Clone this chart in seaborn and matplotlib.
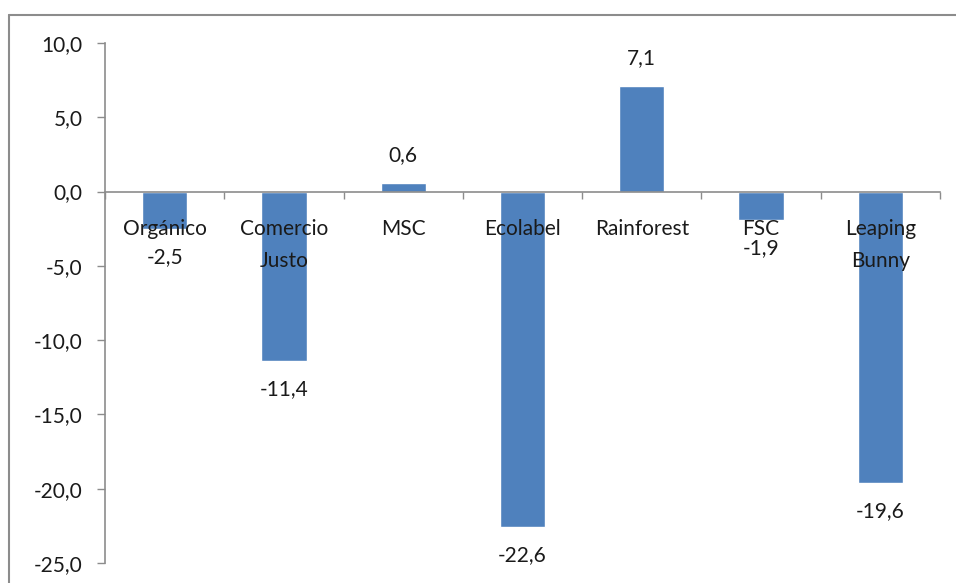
import matplotlib
matplotlib.use("Agg")
import matplotlib.pyplot as plt
from matplotlib.lines import Line2D
import numpy as np
import pandas as pd
import seaborn as sns

### Data ###
categorias = ["Orgánico", "Comercio\nJusto", "MSC", "Ecolabel", "Rainforest", "FSC", "Leaping\nBunny"]
valores = [-2.5, -11.4, 0.6, -22.6, 7.1, -1.9, -19.6]
yticks = [-25, -20, -15, -10, -5, 0, 5, 10]

df = pd.DataFrame({"cat": categorias, "val": valores})

sns.set_style("white")
plt.rcParams["font.family"] = ["Lato", "DejaVu Sans"]

fig = plt.figure(figsize=(9.56, 5.83), dpi=100)
ax = fig.add_axes([105 / 956, 1 - 563 / 583, 835 / 956, 520 / 583])

sns.barplot(data=df, x="cat", y="val", color="#4F81BD", saturation=1, width=0.38, ax=ax)
ax.set_axisbelow(False)  # labels sit on top of the bars, like the Excel original

axis_col = "#8C8C8C"
txt_col = "#1A1A1A"
fs = 15

ax.set_ylim(-25, 10)
ax.set_xlim(-0.5, len(categorias) - 0.5)
ax.set_yticks(yticks)
ax.set_yticklabels([f"{v:.1f}".replace(".", ",") for v in yticks], fontsize=fs, color=txt_col)
ax.tick_params(axis="y", direction="out", length=6, width=1, color=axis_col, pad=10, left=True)

# x-axis sits at zero, tick marks between categories
ax.spines["bottom"].set_position(("data", 0))
ax.set_xticks(range(len(categorias)))
ax.set_xticklabels(categorias, fontsize=fs, color=txt_col, linespacing=1.75, va="top")
ax.tick_params(axis="x", which="major", length=0, pad=20)
ax.set_xticks(np.arange(-0.5, len(categorias), 1), minor=True)
ax.tick_params(axis="x", which="minor", direction="out", length=5, width=1, color=axis_col, bottom=True)

for s in ["top", "right"]:
    ax.spines[s].set_visible(False)
for s in ["left", "bottom"]:
    ax.spines[s].set_color(axis_col)
    ax.spines[s].set_linewidth(1.2)

ax.set_xlabel("")
ax.set_ylabel("")

ax.bar_label(ax.containers[0], labels=[f"{v:.1f}".replace(".", ",") for v in valores],
             padding=13, fontsize=fs, color=txt_col)

# outer chart frame (top and left edges visible)
fig.add_artist(Line2D([9 / 956, 1], [1 - 15 / 583, 1 - 15 / 583], color="#8C8C8C", lw=1.5))
fig.add_artist(Line2D([9 / 956, 9 / 956], [0, 1 - 15 / 583], color="#8C8C8C", lw=1.5))

fig.savefig("out.png", dpi=100)
